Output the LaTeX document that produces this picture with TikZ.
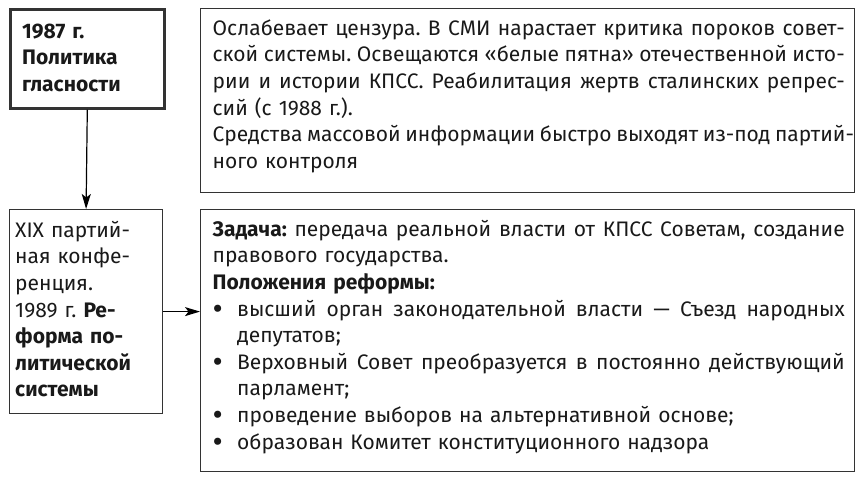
\documentclass[tikz,border=0pt]{standalone}
\usepackage{fontspec}
\usepackage{graphicx}
\setmainfont{Fira Sans}
\usetikzlibrary{arrows.meta}
\setlength{\parindent}{0pt}
\newlength{\tw}\setlength{\tw}{632pt}
\newlength{\bw}\setlength{\bw}{24.5pt}
\newcommand{\dotb}{\raisebox{-0.15em}{\scalebox{1.5}{\textbullet}}}
\newcommand{\jl}[1]{\leavevmode\hbox to \tw{\spaceskip=0.22em plus 1fil\relax #1}}
\newcommand{\bul}[1]{\leavevmode\hbox to \bw{\dotb\hfil}%
  \hbox to \dimexpr\tw-\bw\relax{\spaceskip=0.22em plus 1fil\relax #1}}
\newcommand{\bulr}[1]{\leavevmode\hbox to \bw{\dotb\hfil}#1}
\newcommand{\ind}{\hspace*{\bw}}
\begin{document}
\begin{tikzpicture}[x=1pt,y=-1pt,
  box/.style={draw=black!80, line width=1.2pt, anchor=north west, inner sep=0pt},
  txt/.style={anchor=north west, inner sep=0pt, align=left, text=black!90,
    font=\fontsize{21}{26.6}\selectfont\frenchspacing},
  arr/.style={line width=1.2pt, -{Stealth[length=15pt,width=9pt,inset=3.5pt]}}]
\useasboundingbox (0,0) rectangle (861,478);

\node[box, line width=2.6pt, minimum width=154pt, minimum height=99pt] (glas) at (9,8) {};
\node[box, minimum width=654pt, minimum height=184pt] (cenz) at (200,8) {};
\node[box, minimum width=153pt, minimum height=204pt] (konf) at (9,209) {};
\node[box, minimum width=654pt, minimum height=262pt] (refm) at (200,209) {};

\node[txt, text width=135pt] (glast) at (22,19.4) {\strut\textbf{1987 г.}\\
  \textbf{Политика}\\ \textbf{гласности}};
\node[txt, text width=\tw] (cenzt) at (212.5,16.4) {\strut
  \jl{Ослабевает цензура. В СМИ нарастает критика пороков совет-}\\
  \jl{ской системы. Освещаются «белые пятна» отечественной исто-}\\
  \jl{рии и истории КПСС. Реабилитация жертв сталинских репрес-}\\
  сий (с 1988 г.).\\
  \jl{Средства массовой информации быстро выходят из-под партий-}\\
  ного контроля};
\node[txt, text width=145pt] (konft) at (15,218.4) {\strut XIX партий-\\
  ная конфе-\\ ренция.\\ 1989 г. \textbf{Ре-}\\ \textbf{форма по-}\\
  \textbf{литической}\\ \textbf{системы}};
\node[txt, text width=\tw] (refmt) at (212.5,217.4) {\strut
  \jl{\textbf{Задача:} передача реальной власти от КПСС Советам, создание}\\
  правового государства.\\
  \textbf{Положения реформы:}\\
  \bul{высший орган законодательной власти — Съезд народных}\\
  \ind депутатов;\\
  \bul{Верховный Совет преобразуется в постоянно действующий}\\
  \ind парламент;\\
  \bulr{проведение выборов на альтернативной основе;}\\
  \bulr{образован Комитет конституционного надзора}};

%\draw[arr] (glas) -- (konf);
\draw[arr] (glas.south) -- (konf.north);
\draw[arr] (konf.east) -- (konf.east -| refm.west);
\end{tikzpicture}
\end{document}
